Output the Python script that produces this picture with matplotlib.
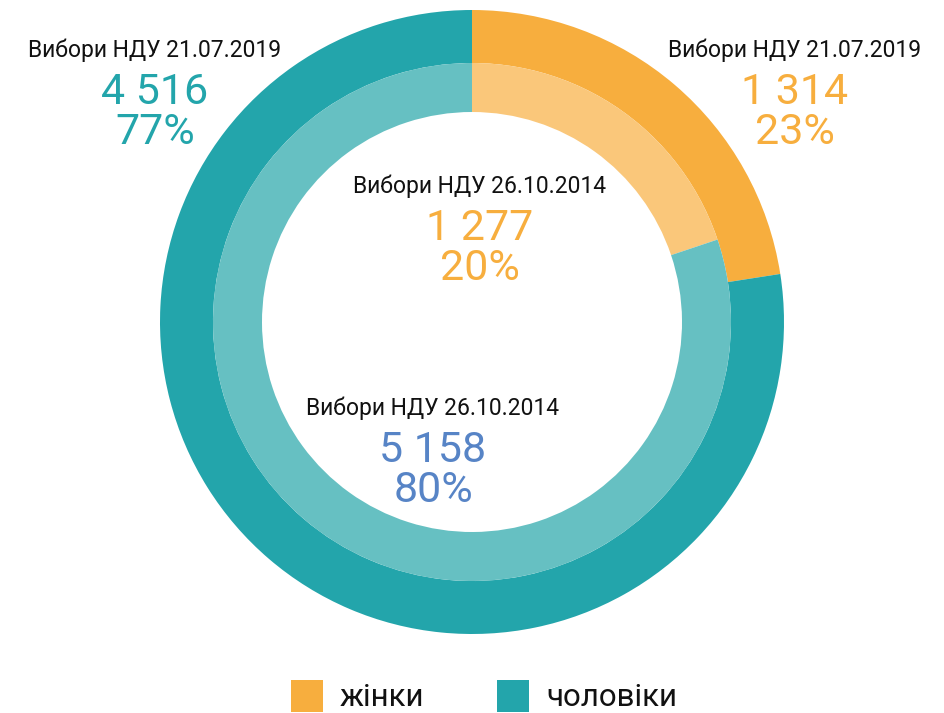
import matplotlib.pyplot as plt
from matplotlib.patches import Rectangle

plt.rcParams['font.family'] = ['Roboto', 'DejaVu Sans']

# дані
categories = ['жінки', 'чоловіки']
values_2019 = [1314, 4516]
values_2014 = [1277, 5158]
pct_2019 = ['23%', '77%']
pct_2014 = ['20%', '80%']
label_2019 = 'Вибори НДУ 21.07.2019'
label_2014 = 'Вибори НДУ 26.10.2014'

outer_colors = ['#F7AE3E', '#23A5AB']
inner_colors = ['#FAC77A', '#66C0C2']

W, H = 944, 713
fig = plt.figure(figsize=(W / 100, H / 100), dpi=100)
ax = fig.add_axes([0, 0, 1, 1])
ax.set_xlim(0, W)
ax.set_ylim(0, H)
ax.set_aspect('equal')
ax.axis('off')

cx, cy = 472, H - 322
r_out, r_mid, r_in = 312, 259, 210

ax.pie(values_2019, radius=r_out, center=(cx, cy), colors=outer_colors,
       startangle=90, counterclock=False,
       wedgeprops=dict(width=r_out - r_mid, linewidth=0))
ax.pie(values_2014, radius=r_mid, center=(cx, cy), colors=inner_colors,
       startangle=90, counterclock=False,
       wedgeprops=dict(width=r_mid - r_in, linewidth=0))
ax.set_xlim(0, W)
ax.set_ylim(0, H)


def fmt(v):
    return f'{v:,}'.replace(',', ' ')


def block(x, y, title, value, pct, color):
    ax.text(x, H - y, title, ha='center', va='center', fontsize=16.5, color='#111111')
    ax.text(x, H - y - 42, fmt(value), ha='center', va='center', fontsize=31,
            color=color)
    ax.text(x, H - y - 82, pct, ha='center', va='center', fontsize=31,
            color=color)


block(155, 50, label_2019, values_2019[1], pct_2019[1], '#23A5AB')
block(795, 50, label_2019, values_2019[0], pct_2019[0], '#F7AE3E')
block(480, 186, label_2014, values_2014[0], pct_2014[0], '#F7AE3E')
block(433, 408, label_2014, values_2014[1], pct_2014[1], '#5784C6')

# легенда
for x0, name, col in zip([291, 497], categories, outer_colors):
    ax.add_patch(Rectangle((x0, H - 712), 32, 32, color=col, linewidth=0))
    ax.text(x0 + 49, H - 698, name, ha='left', va='center', fontsize=22.5, color='#111111')

fig.savefig('out.png', dpi=100)
